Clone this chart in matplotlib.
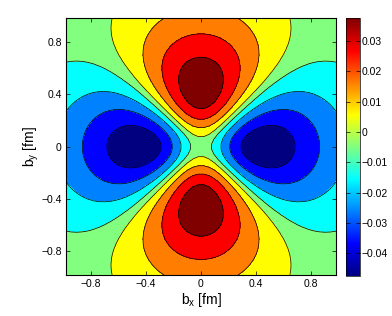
import numpy as np
import matplotlib
matplotlib.use("Agg")
import matplotlib.pyplot as plt
from matplotlib.colors import LinearSegmentedColormap, Normalize
from matplotlib.cm import ScalarMappable

# ---- data (field parameters) ----
extent = 0.98              # grid half-width in fm
n_grid = 50
amplitude = 0.0822         # quadrupole strength
offset = -0.005            # constant shift of the field
core = 0.3                 # inner saturation radius (fm)
width2 = 0.69              # 2*sigma^2 of gaussian fall-off (fm^2)
lobe_power = 0.8           # angular broadening of the lobes

levels = [-0.05, -0.04, -0.03, -0.02, -0.01, 0.0, 0.01, 0.02, 0.03, 0.04]
clim = [-0.0475, 0.0375]
axis_ticks = [-0.8, -0.4, 0.0, 0.4, 0.8]
axis_ticklabels = ["\u22120.8", "\u22120.4", "0", "0.4", "0.8"]
cbar_ticks = [-0.04, -0.03, -0.02, -0.01, 0.0, 0.01, 0.02, 0.03]
cbar_ticklabels = ["\u22120.04", "\u22120.03", "\u22120.02", "\u22120.01", "0",
                   "0.01", "0.02", "0.03"]
xlabel = "b$_\\mathregular{x}$ [fm]"
ylabel = "b$_\\mathregular{y}$ [fm]"

# ---- field ----
bx = np.linspace(-extent, extent, n_grid)
by = np.linspace(-extent, extent, n_grid)
X, Y = np.meshgrid(bx, by)
R2 = X**2 + Y**2
cos2 = np.where(R2 > 0, (Y**2 - X**2) / np.maximum(R2, 1e-12), 0.0)
ang = np.sign(cos2) * np.abs(cos2) ** lobe_power
Z = amplitude * R2 / (R2 + core**2) * np.exp(-R2 / width2) * ang + offset

# ---- MATLAB-like jet ----
jet_anchors = [(0.0, (0, 0, 0.5)), (0.125, (0, 0, 1)), (0.375, (0, 1, 1)),
               (0.625, (1, 1, 0)), (0.875, (1, 0, 0)), (1.0, (0.5, 0, 0))]
mjet = LinearSegmentedColormap.from_list("mjet", jet_anchors, N=256)
band_colors = [mjet(k / 8) for k in range(9)]

plt.rcParams['font.family'] = ['Liberation Sans', 'DejaVu Sans']
fig = plt.figure(figsize=(3.92, 3.16), dpi=100)
ax = fig.add_axes([66/392, 1 - 275/316, 270/392, 256.7/316])

ax.contourf(X, Y, Z, levels=levels, colors=band_colors)
ax.contour(X, Y, Z, levels=levels[1:-1], colors='k', linewidths=0.5,
           linestyles='solid')

ax.set_xlim(-extent, extent)
ax.set_ylim(-extent, extent)
ax.set_xticks(axis_ticks)
ax.set_xticklabels(axis_ticklabels)
ax.set_yticks(axis_ticks)
ax.set_yticklabels(axis_ticklabels)
ax.tick_params(direction='in', length=3, width=0.5, labelsize=7.5,
               top=True, right=True, pad=3)
for s in ax.spines.values():
    s.set_linewidth(0.8)
ax.set_xlabel(xlabel, fontsize=10, labelpad=1)
ax.set_ylabel(ylabel, fontsize=10, labelpad=0)

cax = fig.add_axes([346/392, 1 - 276/316, 14/392, 257.7/316])
sm = ScalarMappable(norm=Normalize(*clim), cmap=mjet)
cb = fig.colorbar(sm, cax=cax)
cb.set_ticks(cbar_ticks)
cb.set_ticklabels(cbar_ticklabels)
cb.outline.set_linewidth(0.5)
cax.tick_params(direction='in', length=3, width=0.5, labelsize=7.5,
                left=True, right=True, pad=1)

fig.savefig("out.png", dpi=100)
